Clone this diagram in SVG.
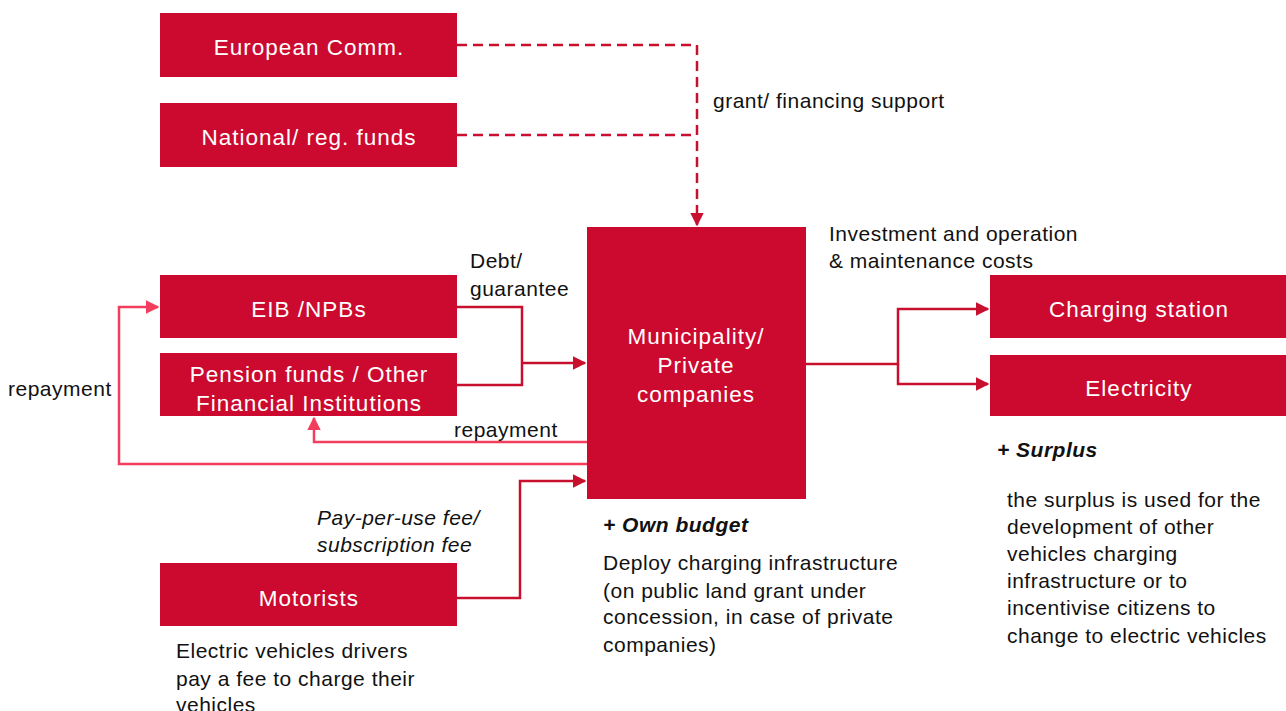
<svg xmlns="http://www.w3.org/2000/svg" width="1286" height="711" viewBox="0 0 1286 711">
<defs>
<style>
.box{fill:#CC0A2F}
.bt{font-family:"Liberation Sans",Arial,sans-serif;font-size:22.5px;fill:#fff;text-anchor:middle;letter-spacing:1px}
.t{font-family:"Liberation Sans",Arial,sans-serif;font-size:21px;fill:#111;letter-spacing:0.5px}
.bi{font-weight:bold;font-style:italic}
.it{font-style:italic}
.ln{fill:none;stroke:#C8102E;stroke-width:2.5}
.pk{fill:none;stroke:#F23D5C;stroke-width:2.5}
.ds{stroke-dasharray:10 6}
</style>
<marker id="ar" viewBox="0 0 10 10" refX="9" refY="5" markerWidth="5.5" markerHeight="5.5" orient="auto" markerUnits="strokeWidth"><path d="M0,0 L10,5 L0,10 z" fill="#C8102E"/></marker>
<marker id="ap" viewBox="0 0 10 10" refX="9" refY="5" markerWidth="5.5" markerHeight="5.5" orient="auto" markerUnits="strokeWidth"><path d="M0,0 L10,5 L0,10 z" fill="#F23D5C"/></marker>
</defs>
<rect width="1286" height="711" fill="#fff"/>
<g id="connectors">
<path class="ln ds" d="M457,45 H697 V225" marker-end="url(#ar)"/>
<path class="ln ds" d="M457,135 H697"/>
<path class="ln" d="M457,307 H522 V385 H457"/>
<path class="ln" d="M522,363 H585" marker-end="url(#ar)"/>
<path class="pk" d="M587,442 H314 V418" marker-end="url(#ap)"/>
<path class="pk" d="M587,464 H119 V307 H158" marker-end="url(#ap)"/>
<path class="ln" d="M457,598 H520 V481 H585" marker-end="url(#ar)"/>
<path class="ln" d="M806,364 H898 V309 H988" marker-end="url(#ar)"/>
<path class="ln" d="M898,364 V384 H988" marker-end="url(#ar)"/>
</g>
<g id="n-ec"><rect class="box" x="160" y="13" width="297" height="64"/><text class="bt" x="309" y="55">European Comm.</text></g>
<g id="n-nat"><rect class="box" x="160" y="103" width="297" height="64"/><text class="bt" x="309" y="145">National/ reg. funds</text></g>
<g id="n-eib"><rect class="box" x="160" y="275" width="297" height="63"/><text class="bt" x="309" y="317">EIB /NPBs</text></g>
<g id="n-pen"><rect class="box" x="160" y="353" width="297" height="63"/><text class="bt" x="309" y="382">Pension funds / Other</text><text class="bt" x="309" y="411">Financial Institutions</text></g>
<g id="n-mot"><rect class="box" x="160" y="563" width="297" height="63"/><text class="bt" x="309" y="606">Motorists</text></g>
<g id="n-mun"><rect class="box" x="587" y="227" width="219" height="272"/><text class="bt" x="696" y="344">Municipality/</text><text class="bt" x="696" y="373">Private</text><text class="bt" x="696" y="402">companies</text></g>
<g id="n-cs"><rect class="box" x="990" y="275" width="296" height="63"/><text class="bt" x="1139" y="317">Charging station</text></g>
<g id="n-el"><rect class="box" x="990" y="355" width="296" height="61"/><text class="bt" x="1139" y="396">Electricity</text></g>
<g id="labels">
<text class="t" x="713" y="108">grant/ financing support</text>
<text class="t" x="470" y="268">Debt/</text>
<text class="t" x="470" y="296">guarantee</text>
<text class="t" x="454" y="437">repayment</text>
<text class="t" x="8" y="396">repayment</text>
<text class="t it" x="317" y="525">Pay-per-use fee/</text>
<text class="t it" x="317" y="552">subscription fee</text>
<text class="t" x="829" y="241">Investment and operation</text>
<text class="t" x="829" y="268">&amp; maintenance costs</text>
<text class="t bi" x="603" y="532">+ Own budget</text>
<text class="t" x="603" y="570">Deploy charging infrastructure</text>
<text class="t" x="603" y="598">(on public land grant under</text>
<text class="t" x="603" y="624">concession, in case of private</text>
<text class="t" x="603" y="652">companies)</text>
<text class="t bi" x="997" y="457">+ Surplus</text>
<text class="t" x="1007" y="507">the surplus is used for the</text>
<text class="t" x="1007" y="534">development of other</text>
<text class="t" x="1007" y="561">vehicles charging</text>
<text class="t" x="1007" y="588">infrastructure or to</text>
<text class="t" x="1007" y="615">incentivise citizens to</text>
<text class="t" x="1007" y="643">change to electric vehicles</text>
<text class="t" x="176" y="658">Electric vehicles drivers</text>
<text class="t" x="176" y="686">pay a fee to charge their</text>
<text class="t" x="176" y="712">vehicles</text>
</g>
</svg>
